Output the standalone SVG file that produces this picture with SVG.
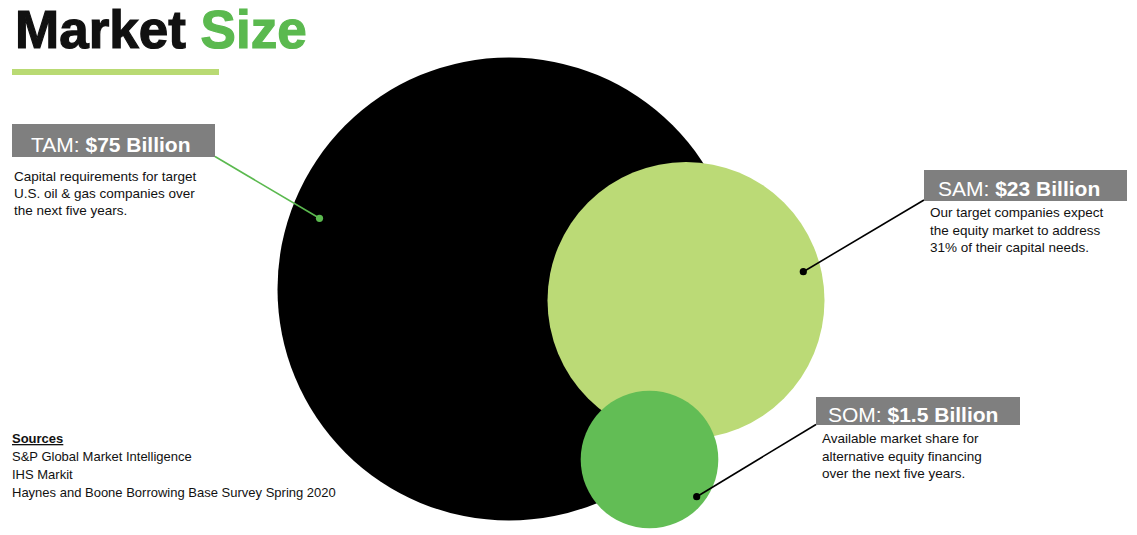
<svg xmlns="http://www.w3.org/2000/svg" width="1137" height="535" viewBox="0 0 1137 535">
<style>
.title{font-family:"Liberation Sans",Arial,sans-serif;font-weight:bold;font-size:53px;stroke-width:1.2}
.lbl{font-family:"Liberation Sans",Arial,sans-serif;font-size:21px;fill:#fff}
.lbl .b{font-weight:bold}
.box{fill:#7f7f7f}
.body{font-family:"Liberation Sans",Arial,sans-serif;font-size:13.5px;fill:#111}
.src{font-size:13px}
.conn{fill:none;stroke-width:1.6}
</style>
<rect width="1137" height="535" fill="#fff"/>
<g id="title">
<text class="title" x="15" y="48"><tspan fill="#111" stroke="#111">Market </tspan><tspan fill="#5bb94f" stroke="#5bb94f">Size</tspan></text>
<rect x="12" y="69" width="207" height="6" fill="#b9da73"/>
</g>
<g id="tam-circle"><circle cx="509" cy="289" r="231.5" fill="#000"/></g>
<g id="sam-circle"><circle cx="686" cy="300.5" r="138.5" fill="#bbda76"/></g>
<g id="som-circle"><circle cx="649.5" cy="459.5" r="68.8" fill="#62bd55"/></g>
<g id="connectors">
<line class="conn" x1="215" y1="156.5" x2="319.5" y2="218.3" stroke="#5bb94f"/>
<circle cx="319.5" cy="218.3" r="3.6" fill="#5bb94f"/>
<line class="conn" x1="924" y1="200" x2="803.3" y2="271.7" stroke="#000"/>
<circle cx="803.3" cy="271.7" r="3.6" fill="#000"/>
<line class="conn" x1="816" y1="424.5" x2="696.7" y2="496.7" stroke="#000"/>
<circle cx="696.7" cy="496.7" r="3.6" fill="#000"/>
</g>
<g id="tam">
<rect class="box" x="12" y="124" width="203" height="33"/>
<text class="lbl" x="31" y="151.5">TAM: <tspan class="b">$75 Billion</tspan></text>
<text class="body"><tspan x="14" y="181">Capital requirements for target</tspan><tspan x="14" y="198">U.S. oil &amp; gas companies over</tspan><tspan x="14" y="215">the next five years.</tspan></text>
</g>
<g id="sam">
<rect class="box" x="924" y="170" width="203" height="31"/>
<text class="lbl" x="938" y="196">SAM: <tspan class="b">$23 Billion</tspan></text>
<text class="body"><tspan x="930" y="217">Our target companies expect</tspan><tspan x="930" y="234.5">the equity market to address</tspan><tspan x="930" y="252">31% of their capital needs.</tspan></text>
</g>
<g id="som">
<rect class="box" x="816" y="397" width="204" height="28"/>
<text class="lbl" x="828" y="421.5">SOM: <tspan class="b">$1.5 Billion</tspan></text>
<text class="body"><tspan x="822" y="443">Available market share for</tspan><tspan x="822" y="460.5">alternative equity financing</tspan><tspan x="822" y="478">over the next five years.</tspan></text>
</g>
<g id="sources">
<text class="body src"><tspan x="12" y="443" font-weight="bold" text-decoration="underline">Sources</tspan><tspan x="12" y="461">S&amp;P Global Market Intelligence</tspan><tspan x="12" y="479">IHS Markit</tspan><tspan x="12" y="497">Haynes and Boone Borrowing Base Survey Spring 2020</tspan></text>
</g>
</svg>
